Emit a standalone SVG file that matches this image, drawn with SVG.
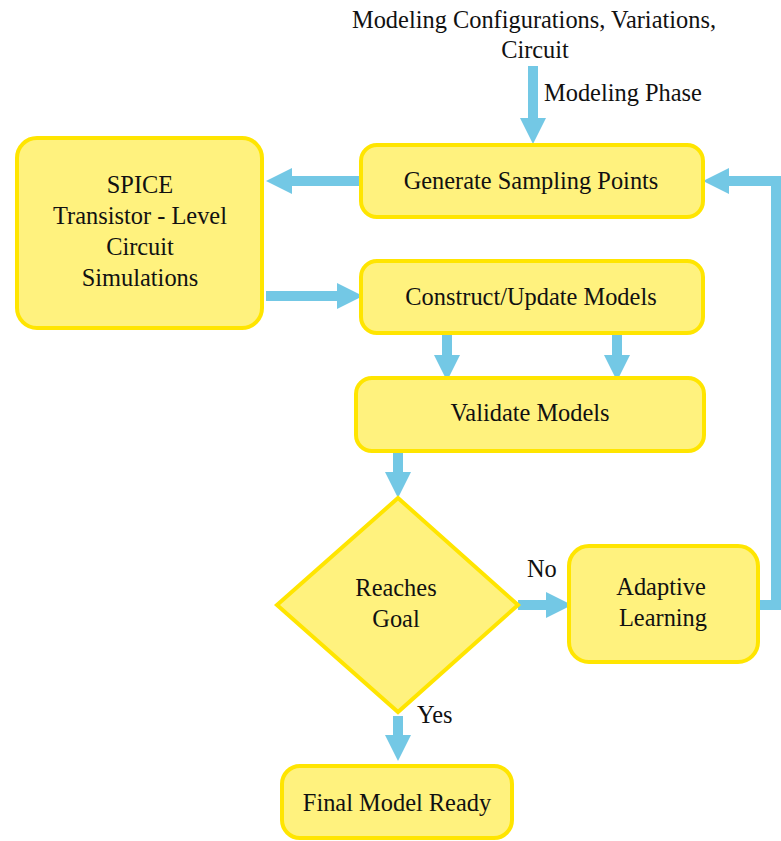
<svg xmlns="http://www.w3.org/2000/svg" width="781" height="841" viewBox="0 0 781 841">
  <style>
    .box { fill: #FFF27E; stroke: #FFE500; stroke-width: 4; }
    text { font-family: 'Liberation Serif', 'Times New Roman', Times, 'DejaVu Serif', serif; font-size: 24.4px; fill: #111; }
    .lbl { text-anchor: middle; }
    .wire { fill: none; stroke: #73C8E5; stroke-width: 10; stroke-linejoin: miter; marker-end: url(#head); }
  </style>
  <defs>
    <marker id="head" markerUnits="userSpaceOnUse" markerWidth="26" markerHeight="26" viewBox="0 0 26 26" refX="0" refY="13" orient="auto">
      <path d="M0,0 L26,13 L0,26 Z" fill="#73C8E5"/>
    </marker>
  </defs>

  <rect width="781" height="841" fill="#ffffff"/>

  <!-- input annotation -->
  <text class="lbl" x="534" y="28">Modeling Configurations, Variations,</text>
  <text class="lbl" x="535" y="58">Circuit</text>
  <text x="544" y="101">Modeling Phase</text>

  <g id="connectors">
    <line class="wire" x1="533" y1="66" x2="533" y2="118"/>
    <line class="wire" x1="361" y1="181" x2="292" y2="181"/>
    <line class="wire" x1="266" y1="296" x2="337" y2="296"/>
    <line class="wire" x1="447" y1="334" x2="447" y2="355"/>
    <line class="wire" x1="617" y1="334" x2="617" y2="355"/>
    <line class="wire" x1="398" y1="452" x2="398" y2="472"/>
    <line class="wire" x1="518" y1="605" x2="546" y2="605"/>
    <path class="wire" d="M759,605 H776 V181 H729"/>
    <line class="wire" x1="398" y1="716" x2="398" y2="735"/>
    <text x="527" y="577">No</text>
    <text x="417" y="723">Yes</text>
  </g>

  <g id="generate">
    <rect class="box" x="361" y="145" width="342" height="72" rx="16"/>
    <text class="lbl" x="531" y="189">Generate Sampling Points</text>
  </g>

  <g id="spice">
    <rect class="box" x="17" y="138" width="245" height="190" rx="20"/>
    <text class="lbl" x="140" y="193">SPICE</text>
    <text class="lbl" x="140" y="224">Transistor - Level</text>
    <text class="lbl" x="140" y="255">Circuit</text>
    <text class="lbl" x="140" y="286">Simulations</text>
  </g>

  <g id="construct">
    <rect class="box" x="361" y="261" width="342" height="72" rx="16"/>
    <text class="lbl" x="531" y="305">Construct/Update Models</text>
  </g>

  <g id="validate">
    <rect class="box" x="356" y="378" width="348" height="73" rx="16"/>
    <text class="lbl" x="530" y="421">Validate Models</text>
  </g>

  <g id="decision">
    <polygon class="box" points="398,498 518,605 398,712 277,605"/>
    <text class="lbl" x="396" y="596">Reaches</text>
    <text class="lbl" x="396" y="627">Goal</text>
  </g>

  <g id="adaptive">
    <rect class="box" x="569" y="546" width="189" height="116" rx="20"/>
    <text class="lbl" x="661" y="595">Adaptive</text>
    <text class="lbl" x="663" y="626">Learning</text>
  </g>

  <g id="final">
    <rect class="box" x="282" y="766" width="230" height="72" rx="18"/>
    <text class="lbl" x="397" y="811">Final Model Ready</text>
  </g>
</svg>
